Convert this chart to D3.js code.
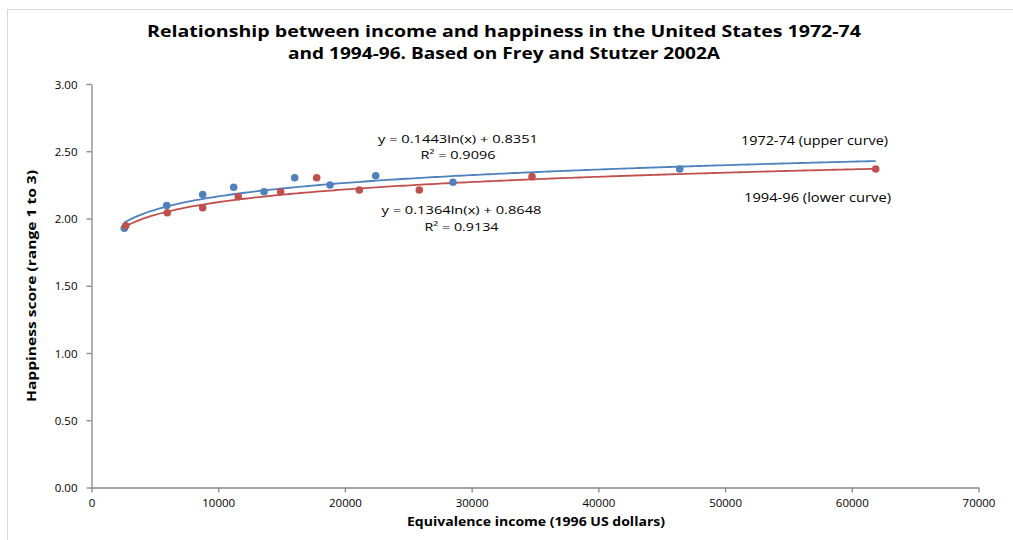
<!DOCTYPE html>
<html><head><meta charset="utf-8">
<script src="https://cdn.jsdelivr.net/npm/d3@7"></script>
<style>body{margin:0;background:#fff;overflow:hidden} svg{display:block}</style>
</head><body><svg id="c" width="1013" height="540"></svg>
<script>
// ---- data ----
const seriesNames = ["1972-74 (upper curve)", "1994-96 (lower curve)"];
const income7274 = [2589, 5935, 8776, 11222, 13614, 16037, 18823, 22429, 28530, 46421];
const happy7274  = [1.927, 2.097, 2.178, 2.232, 2.199, 2.303, 2.249, 2.318, 2.269, 2.368];
const income9496 = [2699, 5982, 8776, 11585, 14932, 17773, 21135, 25870, 34765, 61889];
const happy9496  = [1.946, 2.043, 2.080, 2.162, 2.199, 2.303, 2.212, 2.212, 2.311, 2.368];
const trend7274 = [0.1443, 0.8351]; // y = a ln(x) + b
const trend9496 = [0.1364, 0.8648];
const r2Values = ["0.9096", "0.9134"];
const xTicks = [0, 10000, 20000, 30000, 40000, 50000, 60000, 70000];
const yTicks = [0, 0.5, 1, 1.5, 2, 2.5, 3];
const titleLines = ["Relationship between income and happiness in the United States 1972-74",
                    "and 1994-96. Based on Frey and Stutzer 2002A"];

const BLUE = "#4f81bd", RED = "#c0504d";
const FONT = "'Open Sans', 'Liberation Sans', sans-serif";
const svg = d3.select("#c");

// chart frame
svg.append("rect").attr("x", 7.5).attr("y", 9.5).attr("width", 1200).attr("height", 700)
  .attr("fill", "none").attr("stroke", "#d9d9d9").attr("stroke-width", 1);

const x = d3.scaleLinear().domain([0, 70000]).range([91.5, 978.5]);
const y = d3.scaleLinear().domain([0, 3]).range([487.5, 84]);

function fit(t, w) {
  t.attr("textLength", w).attr("lengthAdjust", "spacingAndGlyphs");
  return t;
}

// title
const tt = svg.append("g").attr("font-family", FONT).attr("font-weight", "bold")
  .attr("font-size", 16.5).attr("fill", "#000").attr("text-anchor", "middle");
fit(tt.append("text").attr("x", 504).attr("y", 37).text(titleLines[0]), 714);
fit(tt.append("text").attr("x", 504).attr("y", 59).text(titleLines[1]), 432);

// axes
const axisColor = "#868686";
const gx = svg.append("g").attr("transform", `translate(0,${y(0)})`)
  .call(d3.axisBottom(x).tickValues(xTicks).tickFormat(d3.format("d")).tickSize(5).tickSizeOuter(0).tickPadding(6));
const gy = svg.append("g").attr("transform", `translate(${x(0)},0)`)
  .call(d3.axisLeft(y).tickValues(yTicks).tickFormat(d3.format(".2f")).tickSize(5).tickSizeOuter(0).tickPadding(9));
[gx, gy].forEach(g => {
  g.select(".domain").attr("stroke", axisColor).attr("stroke-width", 1.3);
  g.selectAll(".tick line").attr("stroke", axisColor).attr("stroke-width", 1.3);
  g.selectAll(".tick text").attr("font-family", FONT).attr("font-size", 11.5).attr("fill", "#000");
});
gy.selectAll(".tick text").attr("dy", "0.35em");

// axis titles
fit(svg.append("text").attr("x", 536).attr("y", 526).attr("text-anchor", "middle")
  .attr("font-family", FONT).attr("font-weight", "bold").attr("font-size", 12).attr("fill", "#000")
  .text("Equivalence income (1996 US dollars)"), 258);
fit(svg.append("text").attr("transform", `translate(36,286) rotate(-90)`).attr("text-anchor", "middle")
  .attr("font-family", FONT).attr("font-weight", "bold").attr("font-size", 11.5).attr("fill", "#000")
  .text("Happiness score (range 1 to 3)"), 232);

// trendlines
const xmin = d3.min(income7274.concat(income9496)), xmax = d3.max(income7274.concat(income9496));
const xs = d3.range(0, 201).map(i => xmin + (xmax - xmin) * i / 200);
const line = d3.line().x(d => x(d[0])).y(d => y(d[1]));
[[trend9496, RED], [trend7274, BLUE]].forEach(([c, col]) => {
  svg.append("path").attr("d", line(xs.map(v => [v, c[0] * Math.log(v) + c[1]])))
    .attr("fill", "none").attr("stroke", col).attr("stroke-width", 1.8);
});

// points
[[income7274, happy7274, BLUE], [income9496, happy9496, RED]].forEach(([xv, yv, col]) => {
  svg.append("g").selectAll("circle").data(xv.map((v, i) => [v, yv[i]])).join("circle")
    .attr("cx", d => x(d[0])).attr("cy", d => y(d[1])).attr("r", 3.8).attr("fill", col);
});

// annotations
const ann = svg.append("g").attr("font-family", FONT).attr("font-size", 11.5).attr("fill", "#000").attr("text-anchor", "middle");
fit(ann.append("text").attr("x", 458).attr("y", 143).text(`y = ${trend7274[0]}ln(x) + ${trend7274[1]}`), 160);
fit(ann.append("text").attr("x", 458).attr("y", 159).text(`R² = ${r2Values[0]}`), 75);
fit(ann.append("text").attr("x", 461.5).attr("y", 214).text(`y = ${trend9496[0]}ln(x) + ${trend9496[1]}`), 160);
fit(ann.append("text").attr("x", 461.5).attr("y", 231).text(`R² = ${r2Values[1]}`), 74);
fit(ann.append("text").attr("x", 741).attr("y", 145).attr("text-anchor", "start").attr("font-size", 12).text(seriesNames[0]), 147);
fit(ann.append("text").attr("x", 744).attr("y", 202).attr("text-anchor", "start").attr("font-size", 12).text(seriesNames[1]), 147);
</script></body></html>
